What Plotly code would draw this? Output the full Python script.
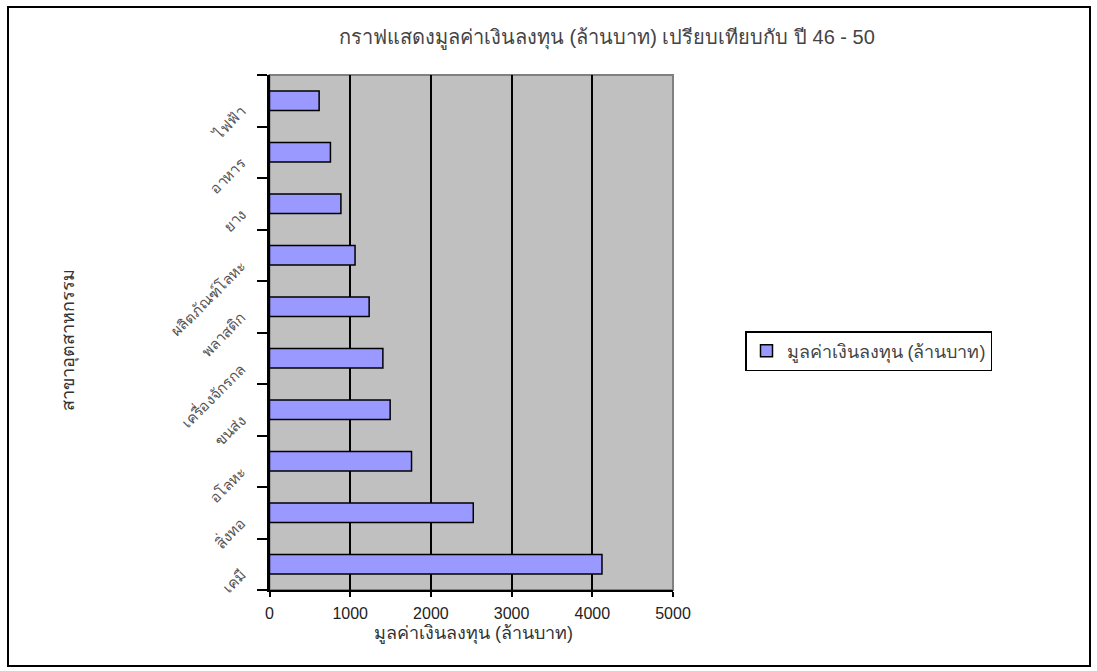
import plotly.graph_objects as go

categories = ["เคมี", "สิ่งทอ", "อโลหะ", "ขนส่ง", "เครื่องจักรกล",
              "พลาสติก", "ผลิตภัณฑ์โลหะ", "ยาง", "อาหาร", "ไฟฟ้า"]
values = [4120, 2525, 1760, 1495, 1405, 1235, 1060, 885, 755, 615]
series_name = "มูลค่าเงินลงทุน (ล้านบาท)"
title_text = "กราฟแสดงมูลค่าเงินลงทุน (ล้านบาท) เปรียบเทียบกับ ปี 46 - 50"
x_title = "มูลค่าเงินลงทุน (ล้านบาท)"
y_title = "สาขาอุตสาหกรรม"
x_ticks = [0, 1000, 2000, 3000, 4000, 5000]

W, H = 1097, 671
FONT = "Liberation Sans, Arial, sans-serif"

fig = go.Figure()
fig.add_trace(go.Bar(
    y=categories, x=values, orientation="h", name=series_name,
    marker=dict(color="#9999FF", line=dict(color="black", width=1.5)),
    showlegend=True,
))

x0, x1 = 269.5, 673
y0, y1 = 75, 590
fig.update_layout(
    width=W, height=H,
    margin=dict(l=0, r=0, t=0, b=0),
    paper_bgcolor="white", plot_bgcolor="#C0C0C0",
    font=dict(family=FONT, size=13, color="black"),
    bargap=0.62,
    xaxis=dict(
        domain=[x0 / W, x1 / W], range=[0, 5000], tickvals=x_ticks,
        showgrid=True, gridcolor="black", gridwidth=2,
        showline=True, linecolor="black", linewidth=2,
        ticks="outside", ticklen=5, tickcolor="black", tickwidth=2,
        ticklabelstandoff=3,
        zeroline=False, automargin=False, fixedrange=True,
        tickfont=dict(size=16, color="#222222"),
    ),
    yaxis=dict(
        domain=[1 - y1 / H, 1 - y0 / H],
        categoryorder="array", categoryarray=categories,
        showgrid=False, showline=True, linecolor="black", linewidth=3,
        ticks="outside", ticklen=10, tickcolor="black", tickwidth=2,
        tickson="boundaries", tickangle=-45,
        ticklabelshift=9, ticklabelstandoff=22,
        automargin=False, fixedrange=True,
        tickfont=dict(size=15, color="#555555"),
    ),
    legend=dict(
        x=745 / W, y=1 - 351 / H, xanchor="left", yanchor="middle",
        bordercolor="black", borderwidth=1.5, bgcolor="white",
        font=dict(size=18, color="#444444"),
    ),
    showlegend=True,
)

# plot-area border (grey, Excel style)
fig.add_shape(type="rect", xref="x domain", yref="y domain",
              x0=0, x1=1, y0=0, y1=1, line=dict(color="#808080", width=2),
              layer="below")
# chart-area outer border
fig.add_shape(type="rect", xref="paper", yref="paper",
              x0=8 / W, x1=1090 / W, y0=1 - 666 / H, y1=1 - 7 / H,
              line=dict(color="black", width=2))

fig.add_annotation(text=title_text, xref="paper", yref="paper",
                   x=607 / W, y=1 - 24 / H, showarrow=False,
                   font=dict(size=20, color="#444444"))
fig.add_annotation(text=x_title, xref="paper", yref="paper",
                   x=473 / W, y=1 - 646 / H, showarrow=False,
                   font=dict(size=18, color="#333333"))
fig.add_annotation(text=y_title, xref="paper", yref="paper",
                   x=55 / W, y=1 - 340 / H, showarrow=False, textangle=-90,
                   font=dict(size=18, color="#333333"))

fig.write_html("out.html")
